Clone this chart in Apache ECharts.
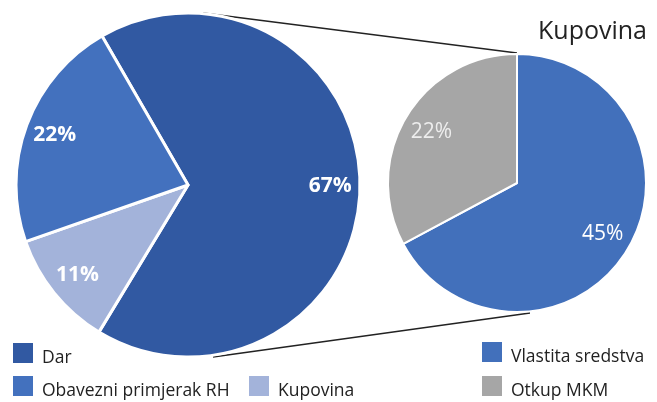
<!DOCTYPE html>
<html><head><meta charset="utf-8">
<script src="https://cdn.jsdelivr.net/npm/echarts@6/dist/echarts.min.js"></script>
<style>html,body{margin:0;padding:0;background:#fff}#c{width:657px;height:402px}</style>
</head><body><div id="c"></div>
<script>
// Data
const mainNames = ['Dar', 'Kupovina', 'Obavezni primjerak RH'];
const mainValues = [67, 11, 22];
const subNames = ['Vlastita sredstva', 'Otkup MKM'];
const subValues = [45, 22];
const subTitle = 'Kupovina';

const mainColors = ['#3159A2', '#A3B3DA', '#4371BE'];
const subColors = ['#4270BB', '#A6A6A6'];

const L = { cx: 188, cy: 185, r: 172 };
const R = { cx: 517, cy: 183, r: 129 };
const FONT = '"Open Sans", sans-serif';

const chart = echarts.init(document.getElementById('c'));
const mainData = mainNames.map((n, i) => ({ name: n, value: mainValues[i], itemStyle: { color: mainColors[i] } }));
const subData = subNames.map((n, i) => ({ name: n, value: subValues[i], itemStyle: { color: subColors[i] } }));

const legendBase = {
  icon: 'rect', itemWidth: 22, itemHeight: 22, orient: 'vertical', itemGap: 12, padding: 0,
  formatter: n => '{s|}\n{t|' + n + '}',
  textStyle: {
    fontFamily: FONT, fontSize: 17.5, color: '#222', padding: [0, 0, 0, 3],
    rich: { s: { lineHeight: 10, fontSize: 1 }, t: { fontFamily: FONT, fontSize: 17.5, color: '#222', lineHeight: 22 } }
  }
};
function lg(name, left, top) {
  return Object.assign({}, legendBase, { data: [name], left: left, top: top - 2 });
}

chart.setOption({
  animation: false,
  title: { text: subTitle, right: 5, top: 14, textStyle: { fontFamily: FONT, fontSize: 25, fontWeight: 'normal', color: '#222' } },
  legend: [
    lg(mainNames[0], 11, 343),
    lg(mainNames[2], 11, 376),
    lg(mainNames[1], 247, 376),
    lg(subNames[0], 480, 342),
    lg(subNames[1], 480, 376)
  ],
  graphic: [
    { type: 'line', shape: { x1: 203, y1: L.cy - L.r, x2: R.cx, y2: R.cy - R.r - 1 }, style: { stroke: '#222', lineWidth: 1.3 }, silent: true },
    { type: 'line', shape: { x1: 213, y1: L.cy + L.r, x2: 530, y2: R.cy + R.r + 1 }, style: { stroke: '#222', lineWidth: 1.3 }, silent: true }
  ],
  series: [
    {
      type: 'pie', center: [L.cx, L.cy], radius: [0, L.r], startAngle: 120, clockwise: true,
      data: mainData, label: { show: false }, labelLine: { show: false },
      itemStyle: { borderColor: '#fff', borderWidth: 3 }, emphasis: { disabled: true }
    },
    {
      type: 'pie', center: [L.cx, L.cy], radius: [L.r * 0.62, L.r], startAngle: 120, clockwise: true,
      data: mainNames.map((n, i) => ({ name: n, value: mainValues[i] })), silent: true, legendHoverLink: false,
      itemStyle: { color: 'rgba(0,0,0,0)' }, emphasis: { disabled: true },
      label: { show: true, position: 'inside', formatter: '{c}%', color: '#fff', fontFamily: FONT, fontSize: 21, fontWeight: 'bold' },
      labelLine: { show: false }
    },
    {
      type: 'pie', center: [R.cx, R.cy], radius: [0, R.r], startAngle: 90, clockwise: true,
      data: subData, label: { show: false }, labelLine: { show: false },
      itemStyle: { borderColor: '#fff', borderWidth: 2 }, emphasis: { disabled: true }
    },
    {
      type: 'pie', center: [R.cx, R.cy], radius: [R.r * 0.5, R.r], startAngle: 90, clockwise: true,
      data: subNames.map((n, i) => ({ name: n, value: subValues[i], label: { color: i === 0 ? '#fff' : '#EDEDED' } })),
      silent: true, itemStyle: { color: 'rgba(0,0,0,0)' }, emphasis: { disabled: true },
      label: { show: true, position: 'inside', formatter: '{c}%', fontFamily: FONT, fontSize: 21 },
      labelLine: { show: false }
    }
  ]
});
</script></body></html>
